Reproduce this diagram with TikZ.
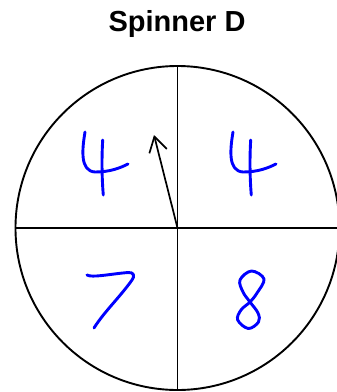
\documentclass[tikz,border=0pt]{standalone}
\usepackage{fontspec}
\setmainfont{Liberation Sans}
\usetikzlibrary{arrows.meta}
\definecolor{stift}{RGB}{0,0,255}
\tikzset{ziffer/.style={stift, line width=2.9pt, line cap=round, line join=round}}
\begin{document}
\begin{tikzpicture}[x=1pt,y=-1pt]
	\useasboundingbox (0,0) rectangle (337,392);
	
	% Zeichnet die Ueberschrift
	\node[anchor=base, font=\bfseries\fontsize{29}{34}\selectfont] (titel) at (177,31) {Spinner D};
	
	% Zeichnet den Kreis des Gluecksrads
	\node[draw, circle, line width=1.9pt, minimum size=324pt, inner sep=0pt] (rad) at (177.5,228) {};
	
	% Zeichnet die beiden Trennlinien der vier Felder
	\draw[line width=1.9pt] (rad.north) -- (rad.south);
	\draw[line width=1.9pt] (rad.west) -- (rad.east);
	
	% Zeichnet den Zeiger
	\coordinate (spitze) at (154,135);
	\draw[line width=1.7pt][-{Straight Barb[length=15pt,width=18pt]}] (rad.center) -- (spitze);
	
	% Zeichnet die 4 oben links
	\draw[ziffer] (85,132) .. controls (82,150) and (80,171) .. (95,172) .. controls (110,172) and (120,168) .. (128,164);
	\draw[ziffer] (102.7,140) .. controls (101.5,160) and (102,180) .. (103.3,195);
	
	% Zeichnet die 4 oben rechts
	\draw[ziffer] (233,132) .. controls (230,150) and (228,171) .. (243,172) .. controls (258,172) and (268,168) .. (276,164);
	\draw[ziffer] (250.7,140) .. controls (249.5,160) and (250,180) .. (251.3,195);
	
	% Zeichnet die 7 unten links
	\draw[ziffer] (87,275) .. controls (92,278) and (110,274) .. (128,272.5) .. controls (134,272) and (135,276) .. (132,280) .. controls (120,297) and (104,312) .. (94,328);
	
	% Zeichnet die 8 unten rechts
	\draw[ziffer] plot[smooth cycle, tension=0.6] coordinates {(251.5,271) (240,280) (243,292) (250,302) (258,313) (258.5,322) (248.3,328.5) (237.7,320) (241,310) (250,302) (257,293) (264,279)};
\end{tikzpicture}
\end{document}
